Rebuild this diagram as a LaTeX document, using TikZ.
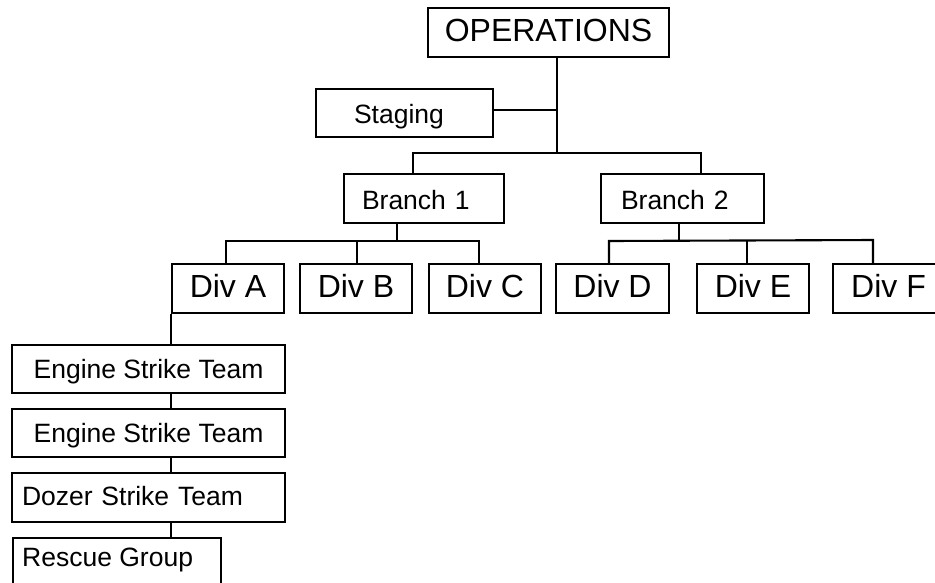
\documentclass[tikz,border=0pt]{standalone}
\usepackage{fontspec}
\setmainfont{Liberation Sans}
\begin{document}
\begin{tikzpicture}[x=1pt,y=-1pt,
  box/.style={draw, line width=2.1pt, inner sep=0pt},
  conn/.style={line width=2.1pt},
  fbig/.style={font=\fontsize{32}{32}\selectfont, text height=17pt, text depth=0pt},
  fmid/.style={font=\fontsize{26.5}{26.5}\selectfont, text height=19pt, text depth=0pt}]
\useasboundingbox (0,0) rectangle (935,582);
\clip (0,0) rectangle (935,582);
% top level
\node[box, fbig, text height=18pt, minimum width=241pt, minimum height=49pt] (ops) at (548.5,32.5) {OPERATIONS};
\node[box, fmid, text height=21pt, minimum height=48pt, inner xsep=38pt, text width=101pt, align=left] (stg) at (404.5,113) {Staging};
\node[box, fmid, text height=21pt, minimum height=49pt, inner xsep=18pt, text width=124pt, align=left] (br1) at (424,198.5) {Branch 1};
\node[box, fmid, text height=21pt, minimum height=49pt, inner xsep=20pt, text width=123pt, align=left] (br2) at (682.5,198.5) {Branch 2};
% divisions
\node[box, fbig, minimum width=112pt, minimum height=49pt] (dA) at (228,288.5) {Div A};
\node[box, fbig, minimum width=112pt, minimum height=49pt] (dB) at (356,288.5) {Div B};
\node[box, fbig, minimum width=112pt, minimum height=49pt] (dC) at (485,288.5) {Div C};
\node[box, fbig, minimum width=113pt, minimum height=49pt] (dD) at (612.5,288.5) {Div D};
\node[box, fbig, minimum width=112pt, minimum height=49pt] (dE) at (753,288.5) {Div E};
\node[box, minimum width=112pt, minimum height=49pt] (dF) at (889,288.5) {};
\node[font=\fontsize{32}{32}\selectfont, anchor=base west, inner sep=0pt] (dFt) at (851,297.5) {Div F};
% teams
\node[box, fmid, text height=18pt, minimum width=273pt, minimum height=48pt] (e1) at (148.5,369) {Engine Strike Team};
\node[box, fmid, text height=18pt, minimum width=273pt, minimum height=48pt] (e2) at (148.5,433) {Engine Strike Team};
\node[box, fmid, text height=15pt, minimum height=49pt, inner xsep=10pt, text width=253pt, align=left] (dz) at (148.5,497.5) {Dozer Strike Team};
\node[box, anchor=north west, minimum width=208pt, minimum height=70pt] (rsc) at (12,537) {};
\node[font=\fontsize{26.5}{26.5}\selectfont, anchor=base west, inner sep=0pt] (rsct) at (22,566) {Rescue Group};
% junctions
\coordinate (j1) at (557,110);
\coordinate (j2) at (557,153);
\coordinate (hB1) at (413,153);
\coordinate (hB2) at (701,153);
\coordinate (d1) at (397,241);
\coordinate (hA) at (226,241);
\coordinate (hB) at (357,241);
\coordinate (hC) at (479,241);
\coordinate (d2) at (679,241);
\coordinate (hD) at (609,241);
\coordinate (hE) at (747,241);
\coordinate (hF) at (873,240);
\coordinate (vx) at (dA.south west);
% connectors
\draw[conn] (ops.south -| j2) -- (j2);
\draw[conn] (stg.east |- j1) -- (j1);
\draw[conn] (br1.north -| hB1) -- (hB1) -- (hB2) -- (br2.north -| hB2);
\draw[conn] (br1.south -| d1) -- (d1);
\draw[conn] (dA.north -| hA) -- (hA) -- (hC) -- (dC.north -| hC);
\draw[conn] (hB) -- (dB.north -| hB);
\draw[conn] (br2.south -| d2) -- (d2);
\draw[conn] (dD.north -| hD) -- (hD) -- (hF) -- (dF.north -| hF);
\draw[conn] (hE) -- (dE.north -| hE);
\draw[conn] (vx) -- (e1.north -| vx);
\draw[conn] (e1.south -| vx) -- (e2.north -| vx);
\draw[conn] (e2.south -| vx) -- (dz.north -| vx);
\draw[conn] (dz.south -| vx) -- (rsc.north -| vx);
\end{tikzpicture}
\end{document}
